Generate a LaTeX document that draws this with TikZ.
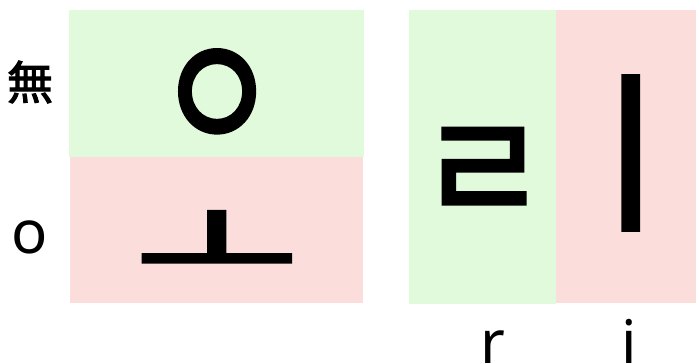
\documentclass[tikz,border=0pt]{standalone}
\usepackage{fontspec}
\setmainfont{Noto Sans}
\newfontfamily\krm{Noto Sans CJK KR}[FakeBold=2.5]
\newfontfamily\krl{Noto Sans CJK KR}[FakeBold=2.5]
\definecolor{cellgreen}{RGB}{225,250,219}
\definecolor{cellred}{RGB}{251,222,219}
\begin{document}
\begin{tikzpicture}[x=1pt,y=-1pt,
  jamo/.style={inner sep=0pt,font=\krm\fontsize{#1}{#1}\selectfont},
  lab/.style={inner sep=0pt,font=\fontsize{60}{60}\selectfont},
  cjklab/.style={inner sep=0pt,font=\krl\fontsize{46}{46}\selectfont}]
\useasboundingbox (0,0) rectangle (696,364);
\fill[cellgreen] (69,10) rectangle (364,157);
\fill[cellred] (70,157) rectangle (363,303);
\fill[cellgreen] (409,10) rectangle (556,304);
\fill[cellred] (556,10) rectangle (696,303);
\node[jamo=138] (ieung) at (217,102) {\scalebox{0.96}[1.2]{ㅇ}};
\node[jamo=130] (o) at (217,248) {\scalebox{1.38}[0.88]{ㅗ}};
\node[jamo=148] (rieul) at (483,176) {\scalebox{0.95}[1.03]{ㄹ}};
\node[jamo=173] (i) at (630,153) {ㅣ};
\node[cjklab] (mu) at (30,82) {無};
\node[lab] (lo) at (30,237) {o};
\node[lab,anchor=base] (lr) at (493,363) {r};
\node[lab,anchor=base] (li) at (629,363) {i};
\end{tikzpicture}
\end{document}
